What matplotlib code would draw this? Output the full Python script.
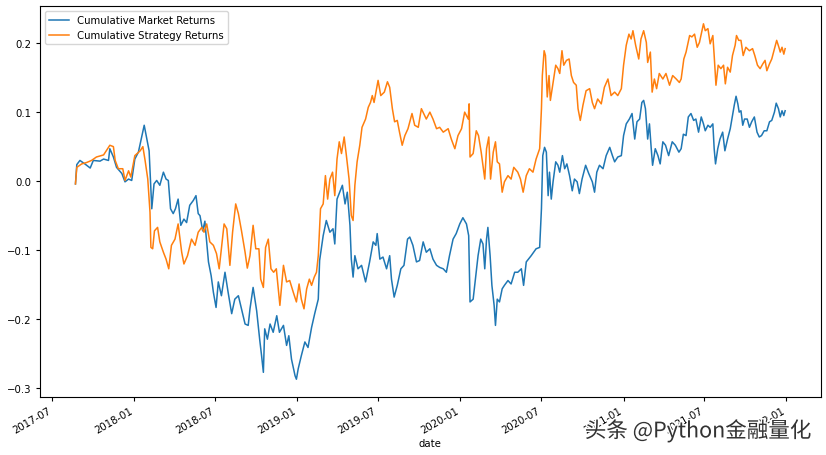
#!/usr/bin/env python3
"""
Plot cumulative market vs. strategy returns (values read off the reference chart).
"""

import matplotlib
matplotlib.use('Agg')
import matplotlib.pyplot as plt
import matplotlib.dates as mdates
import matplotlib.patheffects as pe
import pandas as pd

start_date = '2017-08-22'

# days since start_date, cumulative market returns
market_days = [
    0, 3, 10, 21, 33, 40, 55, 63, 74, 77,
    85, 92, 104, 111, 119, 126, 133, 141, 146, 154,
    160, 165, 169, 171, 176, 182, 189, 197, 203, 208,
    213, 219, 224, 230, 236, 243, 249, 256, 264, 270,
    275, 279, 285, 290, 292, 298, 304, 309, 315, 320,
    327, 335, 342, 350, 357, 365, 372, 380, 387, 391,
    398, 406, 413, 417, 421, 424, 430, 436, 443, 451,
    457, 466, 473, 478, 484, 492, 495, 499, 506, 514,
    521, 529, 536, 544, 547, 555, 562, 570, 577, 581,
    586, 592, 598, 604, 609, 615, 618, 622, 626, 633,
    641, 650, 659, 667, 673, 676, 682, 689, 697, 704,
    708, 714, 721, 729, 736, 744, 749, 756, 764, 771,
    779, 786, 794, 801, 809, 816, 824, 831, 838, 846,
    853, 861, 868, 876, 881, 884, 891, 896, 902, 908,
    913, 917, 921, 924, 929, 933, 938, 941, 945, 950,
    956, 961, 969, 976, 984, 991, 999, 1004, 1010, 1021,
    1032, 1040, 1044, 1047, 1051, 1055, 1059, 1062, 1066, 1070,
    1076, 1081, 1085, 1091, 1096, 1101, 1107, 1113, 1118, 1124,
    1129, 1135, 1143, 1150, 1158, 1163, 1168, 1174, 1182, 1189,
    1197, 1203, 1208, 1215, 1223, 1228, 1234, 1241, 1247, 1253,
    1258, 1264, 1269, 1273, 1277, 1282, 1286, 1290, 1293, 1299,
    1305, 1310, 1316, 1322, 1329, 1337, 1344, 1352, 1357, 1362,
    1368, 1373, 1379, 1385, 1390, 1396, 1402, 1407, 1411, 1417,
    1422, 1428, 1431, 1434, 1439, 1444, 1450, 1455, 1461, 1467,
    1472, 1476, 1480, 1484, 1487, 1491, 1495, 1499, 1505, 1510,
    1515, 1521, 1527, 1532, 1537, 1543, 1549, 1555, 1560, 1566,
    1570, 1575, 1579, 1583, 1587, 1590,
]
market_returns = [
    -0.004, 0.024, 0.030, 0.025, 0.019, 0.030, 0.029, 0.032, 0.030, 0.047,
    0.035, 0.020, 0.011, -0.001, 0.003, 0.001, 0.032, 0.042, 0.057, 0.081,
    0.061, 0.044, -0.011, -0.040, -0.004, 0.001, -0.006, 0.013, 0.003, 0.001,
    -0.040, -0.047, -0.040, -0.026, -0.064, -0.055, -0.060, -0.035, -0.028, -0.021,
    -0.047, -0.050, -0.072, -0.058, -0.074, -0.117, -0.137, -0.161, -0.183, -0.146,
    -0.166, -0.132, -0.161, -0.192, -0.171, -0.166, -0.185, -0.207, -0.209, -0.185,
    -0.154, -0.188, -0.231, -0.253, -0.277, -0.214, -0.229, -0.207, -0.219, -0.195,
    -0.219, -0.209, -0.238, -0.224, -0.258, -0.282, -0.287, -0.272, -0.253, -0.233,
    -0.241, -0.212, -0.192, -0.171, -0.115, -0.079, -0.057, -0.074, -0.069, -0.091,
    -0.026, -0.016, -0.006, -0.033, -0.016, -0.064, -0.113, -0.139, -0.108, -0.127,
    -0.122, -0.146, -0.117, -0.088, -0.093, -0.076, -0.113, -0.110, -0.127, -0.108,
    -0.142, -0.168, -0.151, -0.127, -0.122, -0.084, -0.081, -0.093, -0.117, -0.115,
    -0.088, -0.103, -0.098, -0.113, -0.122, -0.125, -0.127, -0.132, -0.108, -0.084,
    -0.076, -0.062, -0.053, -0.062, -0.079, -0.175, -0.171, -0.142, -0.108, -0.084,
    -0.091, -0.127, -0.084, -0.067, -0.108, -0.151, -0.180, -0.209, -0.171, -0.175,
    -0.156, -0.151, -0.144, -0.149, -0.132, -0.132, -0.127, -0.151, -0.117, -0.108,
    -0.098, -0.096, -0.040, 0.037, 0.049, 0.042, -0.021, 0.013, -0.026, -0.001,
    0.028, 0.023, 0.013, 0.037, 0.018, 0.025, 0.008, -0.014, 0.003, -0.001,
    -0.018, 0.003, 0.023, 0.011, -0.001, -0.016, 0.013, 0.023, 0.018, 0.037,
    0.049, 0.037, 0.028, 0.035, 0.037, 0.066, 0.083, 0.090, 0.098, 0.061,
    0.086, 0.090, 0.114, 0.117, 0.105, 0.061, 0.083, 0.047, 0.023, 0.047,
    0.037, 0.025, 0.057, 0.052, 0.037, 0.057, 0.052, 0.042, 0.047, 0.068,
    0.066, 0.093, 0.098, 0.088, 0.090, 0.071, 0.093, 0.083, 0.073, 0.081,
    0.078, 0.083, 0.047, 0.025, 0.047, 0.061, 0.071, 0.044, 0.061, 0.076,
    0.095, 0.110, 0.123, 0.112, 0.100, 0.102, 0.081, 0.090, 0.090, 0.078,
    0.086, 0.093, 0.071, 0.064, 0.066, 0.073, 0.073, 0.086, 0.088, 0.100,
    0.113, 0.105, 0.093, 0.102, 0.095, 0.102,
]

# days since start_date, cumulative strategy returns
strategy_days = [
    0, 3, 14, 25, 36, 47, 63, 77, 85, 89,
    96, 106, 111, 119, 124, 133, 145, 151, 156, 162,
    167, 169, 173, 177, 184, 189, 197, 203, 209, 215,
    223, 230, 238, 243, 251, 260, 268, 275, 283, 288,
    294, 301, 309, 316, 322, 333, 339, 346, 352, 359,
    365, 372, 380, 385, 391, 398, 404, 411, 415, 421,
    426, 432, 438, 444, 450, 458, 466, 473, 480, 488,
    495, 501, 506, 512, 518, 524, 529, 535, 540, 544,
    549, 555, 560, 565, 570, 576, 581, 586, 591, 596,
    602, 607, 613, 618, 622, 626, 631, 637, 642, 650,
    656, 661, 665, 669, 678, 684, 692, 699, 704, 710,
    715, 721, 726, 732, 738, 745, 754, 760, 768, 775,
    786, 794, 801, 809, 816, 824, 835, 842, 850, 857,
    865, 872, 880, 882, 884, 891, 898, 903, 909, 917,
    921, 926, 930, 936, 941, 945, 950, 956, 961, 969,
    976, 982, 991, 997, 1003, 1010, 1017, 1025, 1032, 1040,
    1044, 1046, 1050, 1053, 1057, 1061, 1064, 1070, 1076, 1081,
    1085, 1090, 1094, 1100, 1106, 1111, 1116, 1122, 1126, 1131,
    1137, 1144, 1152, 1158, 1163, 1170, 1178, 1185, 1193, 1200,
    1208, 1215, 1223, 1228, 1234, 1240, 1245, 1249, 1255, 1262,
    1267, 1273, 1279, 1282, 1288, 1292, 1297, 1302, 1308, 1316,
    1323, 1331, 1338, 1346, 1353, 1357, 1363, 1368, 1376, 1381,
    1387, 1393, 1398, 1403, 1407, 1411, 1417, 1422, 1428, 1431,
    1435, 1440, 1446, 1452, 1456, 1461, 1467, 1472, 1478, 1481,
    1486, 1491, 1496, 1502, 1510, 1517, 1522, 1528, 1534, 1540,
    1545, 1549, 1555, 1560, 1566, 1571, 1576, 1579, 1583, 1587,
    1590,
]
strategy_returns = [
    -0.004, 0.020, 0.025, 0.027, 0.030, 0.035, 0.038, 0.052, 0.050, 0.030,
    0.018, 0.018, 0.001, 0.015, 0.006, 0.037, 0.044, 0.050, 0.030, 0.003,
    -0.045, -0.096, -0.098, -0.072, -0.067, -0.088, -0.103, -0.113, -0.127, -0.093,
    -0.084, -0.062, -0.103, -0.120, -0.108, -0.084, -0.093, -0.074, -0.067, -0.074,
    -0.062, -0.088, -0.093, -0.105, -0.127, -0.062, -0.069, -0.122, -0.074, -0.033,
    -0.047, -0.072, -0.103, -0.126, -0.108, -0.064, -0.098, -0.098, -0.142, -0.154,
    -0.096, -0.084, -0.127, -0.132, -0.127, -0.180, -0.122, -0.146, -0.144, -0.161,
    -0.175, -0.149, -0.171, -0.185, -0.156, -0.142, -0.151, -0.139, -0.132, -0.108,
    -0.040, -0.033, 0.008, -0.026, 0.003, 0.013, -0.021, 0.032, 0.057, 0.040,
    0.064, 0.037, 0.003, -0.050, -0.057, -0.006, 0.028, 0.052, 0.078, 0.090,
    0.107, 0.114, 0.124, 0.114, 0.146, 0.124, 0.129, 0.144, 0.136, 0.105,
    0.086, 0.088, 0.071, 0.052, 0.066, 0.076, 0.098, 0.081, 0.078, 0.105,
    0.090, 0.100, 0.090, 0.076, 0.078, 0.071, 0.076, 0.061, 0.047, 0.066,
    0.076, 0.100, 0.090, 0.112, 0.035, 0.040, 0.073, 0.066, 0.042, 0.003,
    0.047, 0.064, 0.003, 0.042, 0.057, 0.028, 0.025, -0.016, -0.001, 0.008,
    0.003, 0.020, 0.013, 0.003, -0.016, 0.008, 0.018, 0.013, 0.032, 0.047,
    0.105, 0.153, 0.189, 0.182, 0.122, 0.153, 0.117, 0.143, 0.168, 0.163,
    0.156, 0.189, 0.168, 0.175, 0.177, 0.153, 0.143, 0.139, 0.105, 0.088,
    0.110, 0.131, 0.134, 0.114, 0.105, 0.119, 0.112, 0.136, 0.148, 0.124,
    0.129, 0.124, 0.134, 0.168, 0.197, 0.213, 0.206, 0.218, 0.197, 0.177,
    0.206, 0.218, 0.201, 0.172, 0.187, 0.129, 0.148, 0.134, 0.156, 0.148,
    0.156, 0.139, 0.153, 0.148, 0.143, 0.148, 0.177, 0.187, 0.211, 0.209,
    0.213, 0.194, 0.201, 0.216, 0.228, 0.218, 0.221, 0.199, 0.211, 0.182,
    0.139, 0.168, 0.163, 0.168, 0.141, 0.165, 0.158, 0.182, 0.197, 0.211,
    0.204, 0.204, 0.182, 0.194, 0.189, 0.192, 0.182, 0.168, 0.163, 0.170,
    0.175, 0.160, 0.170, 0.177, 0.192, 0.204, 0.194, 0.187, 0.194, 0.184,
    0.192,
]

watermark = '头条 @Python金融量化'


def to_dates(days):
    return pd.Timestamp(start_date) + pd.to_timedelta(days, unit='D')


def plot_returns(output_path='out.png'):
    plt.rcParams['font.size'] = 7.3
    plt.rcParams['xtick.major.size'] = 2.6
    plt.rcParams['ytick.major.size'] = 2.6

    fig = plt.figure(figsize=(8.26, 4.56), dpi=100)
    ax = fig.add_axes([0.0484, 0.1272, 0.9451, 0.8574])

    ax.plot(to_dates(market_days), market_returns, color='#1f77b4', lw=1.1,
            label='Cumulative Market Returns')
    ax.plot(to_dates(strategy_days), strategy_returns, color='#ff7f0e', lw=1.1,
            label='Cumulative Strategy Returns')

    ax.xaxis.set_major_locator(mdates.MonthLocator(bymonth=[1, 7]))
    ax.xaxis.set_major_formatter(mdates.DateFormatter('%Y-%m'))
    for lbl in ax.get_xticklabels():
        lbl.set_rotation(30)
        lbl.set_ha('right')
    ax.set_yticks([-0.3, -0.2, -0.1, 0.0, 0.1, 0.2])
    ax.set_xlabel('date', labelpad=2)
    ax.legend(loc='upper left')

    fig.text(0.708, 0.053, watermark, fontsize=15.5, color='#333333',
             family=['Noto Sans CJK SC', 'DejaVu Sans'], ha='left', va='center',
             path_effects=[pe.withStroke(linewidth=2, foreground='white')])

    fig.savefig(output_path, dpi=100)
    plt.close(fig)


if __name__ == '__main__':
    plot_returns()
